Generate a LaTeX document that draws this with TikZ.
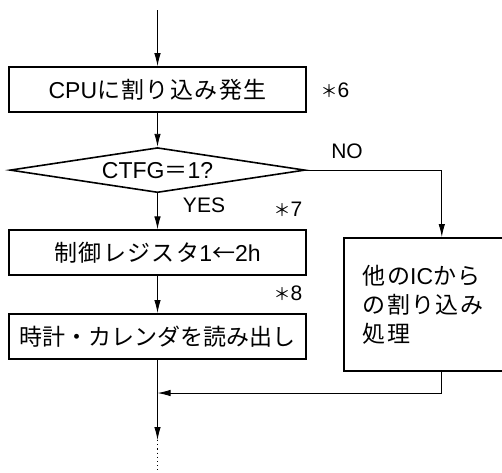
\documentclass[tikz,border=0pt]{standalone}
\usepackage{fontspec}
\setmainfont{Liberation Sans}
\newfontfamily\jp[LetterSpace=6]{Noto Sans CJK JP}
\newfontfamily\jptight{Noto Sans CJK JP}
\newcommand{\starmark}{{\jp\fontsize{17}{20}\selectfont ＊}}
\usepackage{tikz}
\usetikzlibrary{arrows.meta,calc,positioning,shapes.geometric}

\begin{document}
\begin{tikzpicture}[
  x=1pt,y=-1pt,
  procbox/.style={draw,line width=1.6pt,minimum height=45pt,minimum width=297pt,inner sep=0pt,align=center,font=\fontsize{23}{29}\selectfont},
  decision/.style={draw,diamond,line width=1.6pt,aspect=6.5,minimum height=45pt,minimum width=295pt,inner sep=0pt,font=\fontsize{23}{29}\selectfont},
  sidebox/.style={draw,line width=1.6pt,anchor=north west,minimum height=133pt,minimum width=196pt,text width=158pt,inner xsep=19pt,align=left,font=\fontsize{23}{29}\selectfont},
  note/.style={inner sep=0pt,font=\fontsize{21}{24}\selectfont},
  link/.style={line width=0.9pt},
  >={Latex[length=13pt,width=6.5pt]}
]
\useasboundingbox (0,0) rectangle (502,472);
\node[procbox] (cpu) at (157.5,89.5) {CPU{\jp に割り込み発生}};
\node[decision,below=34pt of cpu] (ctfg) {CTFG{\jp ＝}1?};
\node[procbox,below=36pt of ctfg] (reg) {{\jp 制御レジスタ}1{\jp ←}2h};
\node[procbox,below=37pt of reg] (read) {{\jptight 時計・カレンダを読み出し}};
\node[sidebox] (other) at (343,237) {{\jp 他の}IC{\jp から}\\{\jp の割り込み}\\{\jp 処理}};
\node[note] (n6) at (335,90) {\starmark 6};
\node[note] (n7) at (288,209) {\starmark 7};
\node[note] (n8) at (288,293) {\starmark 8};
\node[note] (yes) at (204,205) {YES};
\node[note] (no) at (347,151) {NO};
\coordinate (top) at (157.5,10);
\coordinate (join) at (157.5,393);
\coordinate (tail) at (157.5,440);
\coordinate (end) at (157.5,470);
\draw[link,->] (top) -- (cpu);
\draw[link,->] (cpu) -- (ctfg);
\draw[link,->] (ctfg) -- (reg);
\draw[link,->] (reg) -- (read);
\draw[link,->] (ctfg.east) -| (other.north);
\draw[link,->] (other.south) |- (join);
\draw[link,->] (read) -- (tail);
\draw[link,dash pattern=on 1.2pt off 3pt] (tail) -- (end);
\end{tikzpicture}
\end{document}
